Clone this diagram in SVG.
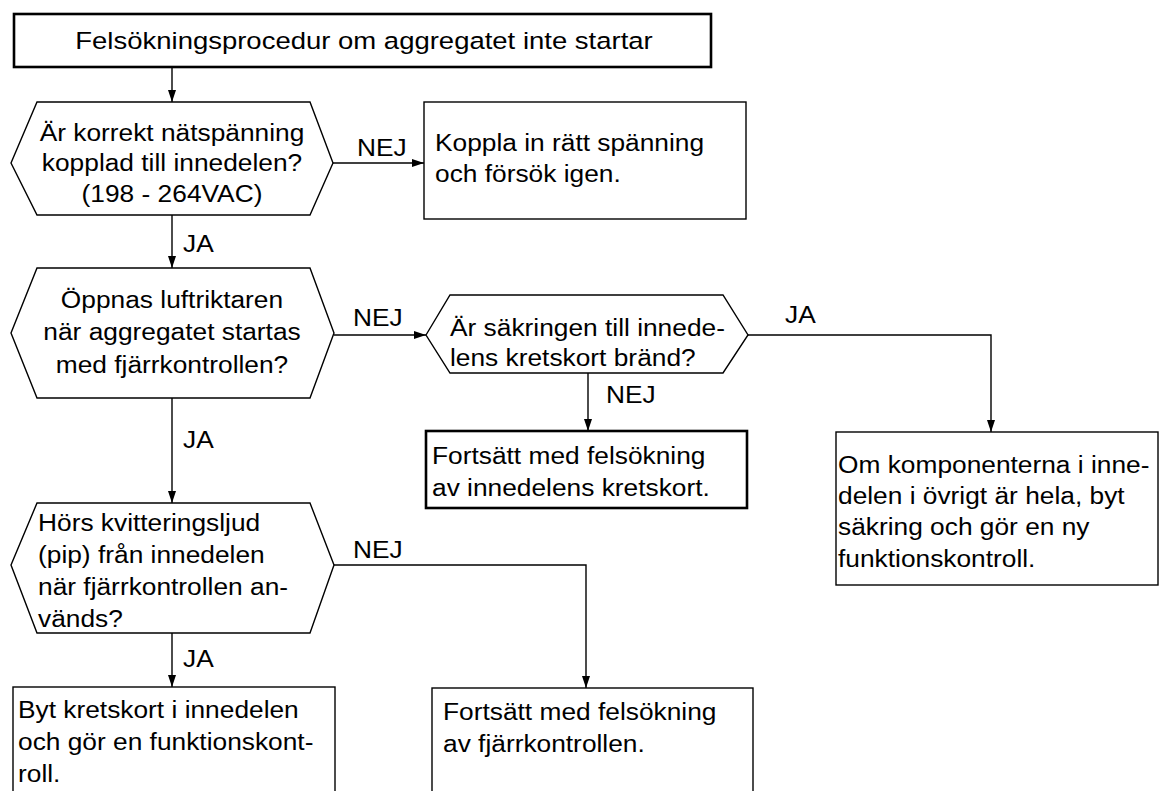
<svg xmlns="http://www.w3.org/2000/svg" width="1166" height="791" viewBox="0 0 1166 791">
<style>
text { font-family: "Liberation Sans", Arial, Helvetica, sans-serif; font-size: 23.5px; fill: #000; }
.shape { fill: #fff; stroke: #000; stroke-width: 1.4; }
.bold { fill: #fff; stroke: #000; stroke-width: 2.6; }
.conn { fill: none; stroke: #000; stroke-width: 1.4; }
</style>
<defs>
<marker id="ah" viewBox="0 0 12 8" refX="12" refY="4" markerWidth="12" markerHeight="8" markerUnits="userSpaceOnUse" orient="auto">
<path d="M0,0 L12,4 L0,8 z" fill="#000"/>
</marker>
</defs>
<rect width="1166" height="791" fill="#fff"/>

<g id="connectors">
<path class="conn" d="M172,67 V102" marker-end="url(#ah)"/>
<path class="conn" d="M333,163 H424" marker-end="url(#ah)"/>
<path class="conn" d="M172,215 V268" marker-end="url(#ah)"/>
<path class="conn" d="M334,335 H426" marker-end="url(#ah)"/>
<path class="conn" d="M748,335 H991 V432" marker-end="url(#ah)"/>
<path class="conn" d="M588,373 V431" marker-end="url(#ah)"/>
<path class="conn" d="M172,398 V503" marker-end="url(#ah)"/>
<path class="conn" d="M334,565 H586 V688" marker-end="url(#ah)"/>
<path class="conn" d="M172,633 V687" marker-end="url(#ah)"/>
<g id="labels">
<g transform="translate(357 0) scale(1.12 1)"><text x="0" y="156">NEJ</text></g>
<g transform="translate(183 0) scale(1.12 1)"><text x="0" y="252">JA</text></g>
<g transform="translate(353 0) scale(1.12 1)"><text x="0" y="326">NEJ</text></g>
<g transform="translate(785 0) scale(1.12 1)"><text x="0" y="323">JA</text></g>
<g transform="translate(606 0) scale(1.12 1)"><text x="0" y="403">NEJ</text></g>
<g transform="translate(183 0) scale(1.12 1)"><text x="0" y="448">JA</text></g>
<g transform="translate(353 0) scale(1.12 1)"><text x="0" y="558">NEJ</text></g>
<g transform="translate(183 0) scale(1.12 1)"><text x="0" y="667">JA</text></g>
</g>
</g>

<g id="title">
<rect class="bold" x="14" y="14" width="697" height="53"/>
<g transform="translate(364 0) scale(1.17 1)"><text x="0" y="49" text-anchor="middle">Felsökningsprocedur om aggregatet inte startar</text></g>
</g>

<g id="q-voltage">
<polygon class="shape" points="11,163 37,102 310,102 333,163 310,215 37,215"/>
<g transform="translate(172 0) scale(1.12 1)"><text text-anchor="middle"><tspan x="0" y="141">Är korrekt nätspänning</tspan><tspan x="0" y="171">kopplad till innedelen?</tspan><tspan x="0" y="202">(198 - 264VAC)</tspan></text></g>
</g>

<g id="a-voltage">
<rect class="shape" x="424" y="102" width="322" height="117"/>
<g transform="translate(435 0) scale(1.12 1)"><text><tspan x="0" y="151">Koppla in rätt spänning</tspan><tspan x="0" y="182">och försök igen.</tspan></text></g>
</g>

<g id="q-damper">
<polygon class="shape" points="11,333 37,268 310,268 334,333 310,398 37,398"/>
<g transform="translate(172 0) scale(1.12 1)"><text text-anchor="middle"><tspan x="0" y="308">Öppnas luftriktaren</tspan><tspan x="0" y="340">när aggregatet startas</tspan><tspan x="0" y="373">med fjärrkontrollen?</tspan></text></g>
</g>

<g id="q-fuse">
<polygon class="shape" points="426,335 450,295 723,295 748,335 723,373 450,373"/>
<g transform="translate(450 0) scale(1.12 1)"><text><tspan x="0" y="336">Är säkringen till innede-</tspan><tspan x="0" y="366">lens kretskort bränd?</tspan></text></g>
</g>

<g id="a-board">
<rect class="bold" x="426" y="431" width="321" height="77"/>
<g transform="translate(432 0) scale(1.12 1)"><text><tspan x="0" y="464">Fortsätt med felsökning</tspan><tspan x="0" y="496">av innedelens kretskort.</tspan></text></g>
</g>

<g id="a-fuse">
<rect class="shape" x="836" y="432" width="322" height="153"/>
<g transform="translate(838 0) scale(1.12 1)"><text><tspan x="0" y="473">Om komponenterna i inne-</tspan><tspan x="0" y="504">delen i övrigt är hela, byt</tspan><tspan x="0" y="535">säkring och gör en ny</tspan><tspan x="0" y="567">funktionskontroll.</tspan></text></g>
</g>

<g id="q-beep">
<polygon class="shape" points="11,565 37,503 310,503 334,565 310,633 37,633"/>
<g transform="translate(38 0) scale(1.12 1)"><text><tspan x="0" y="531">Hörs kvitteringsljud</tspan><tspan x="0" y="563">(pip) från innedelen</tspan><tspan x="0" y="595">när fjärrkontrollen an-</tspan><tspan x="0" y="627">vänds?</tspan></text></g>
</g>

<g id="a-replace">
<rect class="shape" x="13" y="687" width="322" height="130"/>
<g transform="translate(18 0) scale(1.12 1)"><text><tspan x="0" y="718">Byt kretskort i innedelen</tspan><tspan x="0" y="750">och gör en funktionskont-</tspan><tspan x="0" y="782">roll.</tspan></text></g>
</g>

<g id="a-remote">
<rect class="shape" x="432" y="688" width="321" height="130"/>
<g transform="translate(443 0) scale(1.12 1)"><text><tspan x="0" y="720">Fortsätt med felsökning</tspan><tspan x="0" y="752">av fjärrkontrollen.</tspan></text></g>
</g>
</svg>
